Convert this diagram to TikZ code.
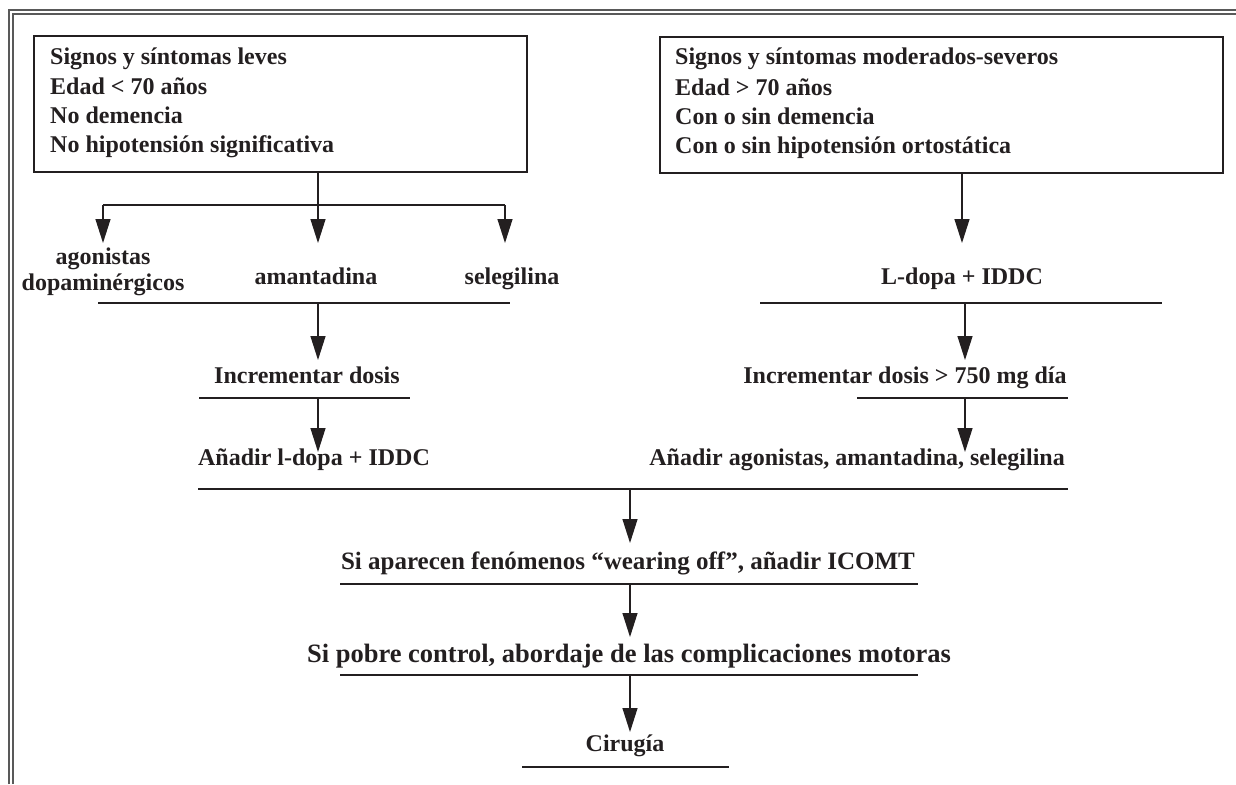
\documentclass[tikz,border=0pt]{standalone}
\usepackage{fontspec}
\setmainfont{Liberation Serif}
\usetikzlibrary{arrows.meta}
\definecolor{ink}{HTML}{231F20}
\begin{document}
\begin{tikzpicture}[x=1pt,y=-1pt,
  txt/.style={font=\fontsize{24}{29}\selectfont\bfseries, text=ink, inner sep=0pt, anchor=base},
  ltxt/.style={txt, anchor=base west},
  rtxt/.style={txt, anchor=base east},
  box/.style={draw=ink, line width=2pt, inner sep=0pt, anchor=north west},
  rulel/.style={draw=ink, line width=2.6pt},
  conn/.style={draw=ink, line width=1.3pt, -{Triangle[length=24pt,width=15pt]}},
  plainl/.style={draw=ink, line width=1.3pt},
  framel/.style={draw=black!65, line width=1.3pt}]
\useasboundingbox (0,0) rectangle (1236,784);
% frame (only top and left visible)
\coordinate (fo1) at (9,784); \coordinate (fo2) at (9,10); \coordinate (fo3) at (1236,10);
\coordinate (fi1) at (13,784); \coordinate (fi2) at (13,14); \coordinate (fi3) at (1236,14);
\draw[framel] (fo1) -- (fo2) -- (fo3);
\draw[framel] (fi1) -- (fi2) -- (fi3);
% boxes
\node[box, minimum width=493pt, minimum height=136pt] (L) at (33,35) {};
\node[box, minimum width=563pt, minimum height=136pt] (R) at (659,36) {};
\node[ltxt] (L1) at (50,65) {Signos y síntomas leves};
\node[ltxt] (L2) at (50,94) {Edad < 70 años};
\node[ltxt] (L3) at (50,123) {No demencia};
\node[ltxt] (L4) at (50,152) {No hipotensión significativa};
\node[ltxt] (R1) at (675,65) {Signos y síntomas moderados-severos};
\node[ltxt] (R2) at (675,95) {Edad > 70 años};
\node[ltxt] (R3) at (675,124) {Con o sin demencia};
\node[ltxt] (R4) at (675,153) {Con o sin hipotensión ortostática};
% left branch
\coordinate (ls) at (318,171);
\coordinate (b1) at (103,205);
\coordinate (b3) at (505,205);
\coordinate (t1) at (103,243);
\coordinate (t2) at (318,243);
\coordinate (t3) at (505,243);
\draw[plainl] (b1) -- (b3);
\draw[conn] (ls) -- (t2);
\draw[conn] (b1) -- (t1);
\draw[conn] (b3) -- (t3);
\node[txt] (ago1) at (103,264) {agonistas};
\node[txt] (ago2) at (103,290) {dopaminérgicos};
\node[txt] (ama) at (316,284) {amantadina};
\node[txt] (sel) at (512,284) {selegilina};
\coordinate (r1a) at (98,303); \coordinate (r1b) at (510,303);
\draw[rulel] (r1a) -- (r1b);
\coordinate (a1s) at (318,303); \coordinate (a1e) at (318,360);
\draw[conn] (a1s) -- (a1e);
\node[txt] (incl) at (307,383) {Incrementar dosis};
\coordinate (r2a) at (199,398); \coordinate (r2b) at (410,398);
\draw[rulel] (r2a) -- (r2b);
\coordinate (a2s) at (318,398); \coordinate (a2e) at (318,452);
\draw[conn] (a2s) -- (a2e);
\node[txt] (anl) at (314,465) {Añadir l-dopa + IDDC};
% right branch
\coordinate (rs) at (962,172); \coordinate (rt) at (962,243);
\draw[conn] (rs) -- (rt);
\node[txt] (ldopa) at (962,284) {L-dopa + IDDC};
\coordinate (r3a) at (760,303); \coordinate (r3b) at (1162,303);
\draw[rulel] (r3a) -- (r3b);
\coordinate (a3s) at (965,303); \coordinate (a3e) at (965,360);
\draw[conn] (a3s) -- (a3e);
\node[txt] (incr) at (905,383) {Incrementar dosis > 750 mg día};
\coordinate (r4a) at (857,398); \coordinate (r4b) at (1068,398);
\draw[rulel] (r4a) -- (r4b);
\coordinate (a4s) at (965,398); \coordinate (a4e) at (965,452);
\draw[conn] (a4s) -- (a4e);
\node[rtxt] (anr) at (1065,465) {Añadir agonistas, amantadina, selegilina};
% common
\coordinate (r5a) at (198,489); \coordinate (r5b) at (1068,489);
\draw[rulel] (r5a) -- (r5b);
\coordinate (a5s) at (630,489); \coordinate (a5e) at (630,543);
\draw[conn] (a5s) -- (a5e);
\node[txt, font=\fontsize{25}{29}\selectfont\bfseries] (wear) at (628,569) {Si aparecen fenómenos “wearing off”, añadir ICOMT};
\coordinate (r6a) at (340,584); \coordinate (r6b) at (918,584);
\draw[rulel] (r6a) -- (r6b);
\coordinate (a6s) at (630,584); \coordinate (a6e) at (630,637);
\draw[conn] (a6s) -- (a6e);
\node[txt, font=\fontsize{26.5}{29}\selectfont\bfseries] (pobre) at (629,662) {Si pobre control, abordaje de las complicaciones motoras};
\coordinate (r7a) at (340,675); \coordinate (r7b) at (918,675);
\draw[rulel] (r7a) -- (r7b);
\coordinate (a7s) at (630,675); \coordinate (a7e) at (630,732);
\draw[conn] (a7s) -- (a7e);
\node[txt] (cir) at (625,751) {Cirugía};
\coordinate (r8a) at (522,767); \coordinate (r8b) at (729,767);
\draw[rulel] (r8a) -- (r8b);
\end{tikzpicture}
\end{document}
